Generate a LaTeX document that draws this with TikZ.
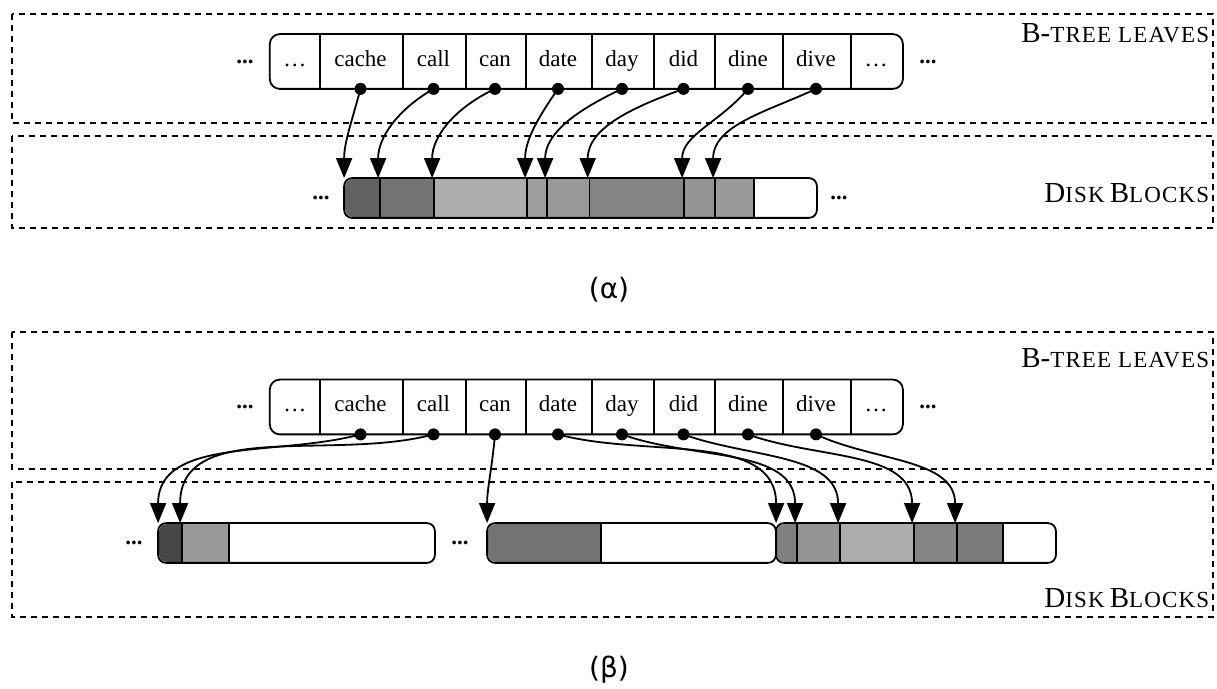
\documentclass[tikz,border=0pt]{standalone}
\usepackage{fontspec}
\setmainfont{Liberation Serif}
\newfontfamily\tagfont{DejaVu Sans}
\usetikzlibrary{arrows.meta}
\newcommand{\smallcap}[2]{{\fontsize{14.5}{14.5}\selectfont #1}{\addfontfeature{LetterSpace=5}\fontsize{11.5}{11.5}\selectfont #2}}

\begin{document}
\begin{tikzpicture}[
    x=0.5pt, y=-0.5pt,
    line width=0.9pt,
    frame/.style={dash pattern=on 3pt off 2.5pt, line width=1pt},
    cell/.style={inner sep=0pt, minimum height=26.5pt, text height=7.5pt, text depth=2.5pt, font=\fontsize{11.5}{12}\selectfont},
    seg/.style={inner sep=0pt, minimum height=19pt},
    ptr/.style={-{Triangle[length=10pt, width=8pt]}},
    lbl/.style={anchor=base east, inner sep=0pt},
    more/.style={font=\bfseries\fontsize{11.5}{12}\selectfont, inner sep=0pt},
    tag/.style={font=\tagfont\fontsize{14}{14}\selectfont},
]
    \useasboundingbox (0,0) rectangle (1217,689);

    % Panel frames
    \draw[frame] (12,14) rectangle (1213,123);
    \draw[frame] (12,136) rectangle (1213,228);
    \draw[frame] (12,332) rectangle (1213,469);
    \draw[frame] (12,482) rectangle (1213,617);

    % B-tree leaves (same row in both panels)
    \foreach \p/\yc in {a/61.5, b/407} {
        \foreach \lx/\rx/\word/\i in {270.7/319/\dots/0, 319/402/cache/1, 402/465/call/2,
            465/525/can/3, 525/591/date/4, 591/653/day/5, 653/714/did/6,
            714/782/dine/7, 782/850/dive/8, 850/902/\dots/9} {
            \pgfmathsetmacro\cw{(\rx-\lx)*0.5}
            \node[cell, minimum width=\cw pt] (\p\i) at ({(\lx+\rx)/2},\yc) {\word};
        }
        \draw[rounded corners=5pt] (\p0.north west) rectangle (\p9.south east);
        \foreach \i in {0,...,8}
            \draw (\p\i.north east) -- (\p\i.south east);
        \node[more] (\p-ldots) at (245,\yc) {...};
        \node[more] (\p-rdots) at (928,\yc) {...};
    }

    % (a) one contiguous disk run
    \begin{scope}
        \clip[rounded corners=4pt] (345,179) rectangle (816,217);
        \foreach \lx/\rx/\shade/\i in {345/379/62/1, 379/433/55/2, 433/526/32/3, 526/546/38/4,
            546/588.6/40/5, 588.6/683/48/6, 683/714/42/7, 714/753/40/8, 753/816/0/9} {
            \pgfmathsetmacro\cw{(\rx-\lx)*0.5}
            \node[seg, fill=black!\shade, minimum width=\cw pt] (ad\i) at ({(\lx+\rx)/2},198) {};
        }
    \end{scope}
    \draw[rounded corners=4pt] (ad1.north west) rectangle (ad9.south east);
    \foreach \i in {1,...,8}
        \draw (ad\i.north east) -- (ad\i.south east);
    \node[more] (ad-ldots) at (321,198) {...};
    \node[more] (ad-rdots) at (839,198) {...};

    % (b) scattered disk blocks
    \begin{scope}
        \clip[rounded corners=4pt] (159,524) rectangle (434,562);
        \foreach \lx/\rx/\shade/\i in {159/181/72/1, 181/228/40/2, 228/434/0/3} {
            \pgfmathsetmacro\cw{(\rx-\lx)*0.5}
            \node[seg, fill=black!\shade, minimum width=\cw pt] (bd\i) at ({(\lx+\rx)/2},543) {};
        }
    \end{scope}
    \draw[rounded corners=4pt] (bd1.north west) rectangle (bd3.south east);
    \foreach \i in {1,2}
        \draw (bd\i.north east) -- (bd\i.south east);

    \begin{scope}
        \clip[rounded corners=4pt] (488,524) rectangle (775,562);
        \foreach \lx/\rx/\shade/\i in {488/600/55/1, 600/775/0/2} {
            \pgfmathsetmacro\cw{(\rx-\lx)*0.5}
            \node[seg, fill=black!\shade, minimum width=\cw pt] (be\i) at ({(\lx+\rx)/2},543) {};
        }
    \end{scope}
    \draw[rounded corners=4pt] (be1.north west) rectangle (be2.south east);
    \draw (be1.north east) -- (be1.south east);

    \begin{scope}
        \clip[rounded corners=4pt] (777,524) rectangle (1055,562);
        \foreach \lx/\rx/\shade/\i in {777/796/50/1, 796/839/42/2, 839/913/32/3,
            913/956/48/4, 956/1002/52/5, 1002/1055/0/6} {
            \pgfmathsetmacro\cw{(\rx-\lx)*0.5}
            \node[seg, fill=black!\shade, minimum width=\cw pt] (bf\i) at ({(\lx+\rx)/2},543) {};
        }
    \end{scope}
    \draw[rounded corners=4pt] (bf1.north west) rectangle (bf6.south east);
    \foreach \i in {1,...,5}
        \draw (bf\i.north east) -- (bf\i.south east);
    \node[more] (bd-dots) at (134,543) {...};
    \node[more] (be-dots) at (460,543) {...};

    % Pointers
    \foreach \i/\o in {1/-105, 2/-150, 3/-155, 4/-125, 5/-155, 6/-160, 7/-130, 8/-155}
        \draw[ptr] (a\i.south) to[out=\o, in=90] (ad\i.north west);
    \draw[ptr] (b1.south) to[out=-165, in=90] (bd1.north west);
    \draw[ptr] (b2.south) to[out=-165, in=90] (bd2.north west);
    \draw[ptr] (b3.south) to[out=-95, in=90] (be1.north west);
    \foreach \i/\j/\o in {4/1/-15, 5/2/-20, 6/3/-20, 7/4/-20, 8/5/-25}
        \draw[ptr] (b\i.south) to[out=\o, in=90] (bf\j.north west);
    \foreach \p in {a,b}
        \foreach \i in {1,...,8}
            \fill (\p\i.south) circle (3pt);

    % Labels
    \node[lbl] (a-leaves) at (1210,43) {\smallcap{B-}{TREE LEAVES}};
    \node[lbl] (a-blocks) at (1210,203) {\smallcap{D}{ISK}\ \smallcap{B}{LOCKS}};
    \node[lbl] (b-leaves) at (1210,368) {\smallcap{B-}{TREE LEAVES}};
    \node[lbl] (b-blocks) at (1210,608) {\smallcap{D}{ISK}\ \smallcap{B}{LOCKS}};
    \node[tag] (a-tag) at (609,290) {(α)};
    \node[tag] (b-tag) at (609,670) {(β)};
\end{tikzpicture}
\end{document}
